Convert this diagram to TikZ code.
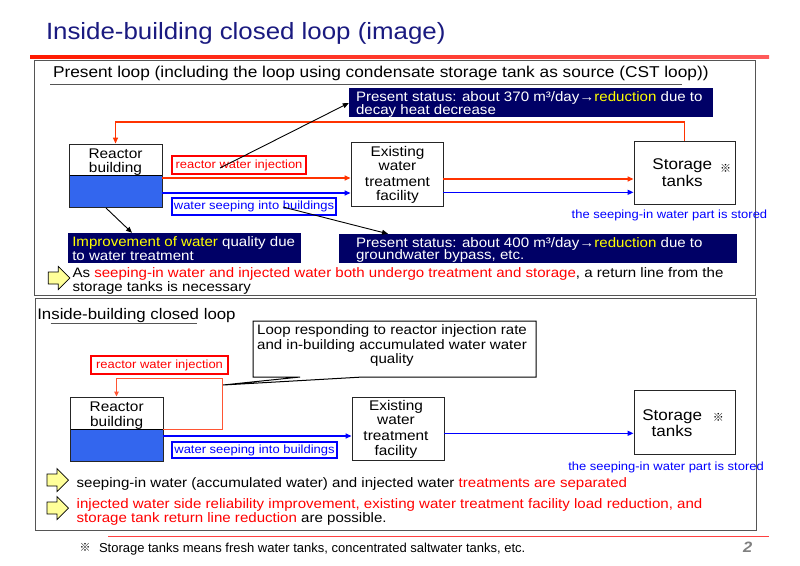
\documentclass[tikz,border=0pt]{standalone}
\usepackage{fontspec}
\setmainfont{Liberation Sans}[FakeStretch=1.1]
\newfontfamily\plainfont{Liberation Sans}
\newfontfamily\markfont{Noto Sans CJK JP}
\usetikzlibrary{arrows.meta}
\newcommand\fsz[1]{\fontsize{#1pt}{#1pt}\selectfont}
\definecolor{titlenavy}{HTML}{1A1A80}
\definecolor{navybox}{HTML}{000066}
\definecolor{water}{HTML}{3366EE}
\definecolor{redline}{HTML}{FF3300}
\definecolor{loopred}{HTML}{FF5533}
\definecolor{txtred}{HTML}{FF0000}
\definecolor{txtblue}{HTML}{0000FF}
\definecolor{ylw}{HTML}{FFFF00}
\definecolor{arrowfill}{HTML}{FFFF99}
\definecolor{titlered1}{HTML}{FF1A00}
\definecolor{titlered2}{HTML}{FF5A5A}
\definecolor{framegray}{HTML}{555555}
\tikzset{
  txt/.style={anchor=base west, inner sep=0pt, outer sep=0pt},
  ctxt/.style={anchor=base, inner sep=0pt, outer sep=0pt},
  blk/.style={draw=black!85, line width=0.9pt, fill=white, inner sep=0pt},
  rbox/.style={blk, path picture={\filldraw[fill=water, draw=black, line width=0.9pt] (path picture bounding box.west) rectangle (path picture bounding box.south east);}},
  redarr/.style={draw=redline, line width=1.4pt, -{Triangle[length=6pt,width=5pt]}},
  bluearr/.style={draw=txtblue, line width=1.4pt, -{Triangle[length=6pt,width=5pt]}},
  blkarr/.style={draw=black, line width=0.9pt, -{Triangle[length=6pt,width=5pt]}},
  looparr/.style={draw=loopred, line width=1pt, -{Triangle[length=5pt,width=4.5pt]}},
  redlbl/.style={draw=txtred, line width=1.2pt, fill=white, text=txtred, inner sep=0pt},
  bluelbl/.style={draw=txtblue, line width=1.2pt, fill=white, text=txtblue, inner sep=0pt},
  navy/.style={fill=navybox, inner sep=0pt},
  frame/.style={draw=framegray, line width=0.9pt},
  yarr/.pic={\filldraw[fill=arrowfill, draw=black, line width=0.7pt] (0,-6) -- (10,-6) -- (10,-11.5) -- (21.5,0) -- (10,11.5) -- (10,6) -- (0,6) -- cycle;}
}
\begin{document}
\begin{tikzpicture}[x=1pt,y=-1pt]
\useasboundingbox (0,0) rectangle (800,565);
\fill[white] (0,0) rectangle (800,565);

% title
\node[txt, text=titlenavy] (title) at (46,39.5) {\fsz{23.5}Inside-building closed loop (image)};
\shade[left color=titlered1, right color=titlered2] (30,55.8) rectangle (769,58.3);

% frames
\draw[frame] (34,60) rectangle (755,295);
\draw[frame] (35,298) rectangle (756,530);

% ===== upper part =====
\node[txt] (h1) at (53,77.3) {\fsz{15.7}Present loop (including the loop using condensate storage tank as source (CST loop))};
\draw[draw=framegray, line width=0.8pt] (50,84) -- (682,84);

% navy boxes
\node[navy, minimum width=364pt, minimum height=29pt] (ns1) at (531,102.5) {};
\node[navy, minimum width=398pt, minimum height=29pt] (ns2) at (538,248.5) {};
\node[navy, minimum width=233pt, minimum height=30pt] (ns3) at (184.5,248) {};
\begin{scope}
\clip (349,88) rectangle (713,117);
\node[txt, text=white] (ns1a) at (356,101.5) {\fsz{13.7}Present status: about 370 m³/day→\textcolor{ylw}{reduction} due to};
\node[txt, text=white] (ns1b) at (356,114.3) {\fsz{13.7}decay heat decrease};
\end{scope}
\begin{scope}
\clip (339,234) rectangle (737,263);
\node[txt, text=white] (ns2a) at (356,247) {\fsz{13.7}Present status: about 400 m³/day→\textcolor{ylw}{reduction} due to};
\node[txt, text=white] (ns2b) at (356,259.8) {\fsz{13.7}groundwater bypass, etc.};
\end{scope}
\begin{scope}
\clip (68,233) rectangle (301,263);
\node[txt, text=white] (ns3a) at (72.3,246) {\fsz{13.7}\textcolor{ylw}{Improvement of water} quality due};
\node[txt, text=white] (ns3b) at (72.3,260) {\fsz{13.7}to water treatment};
\end{scope}

% boxes
\node[rbox, minimum width=93pt, minimum height=63pt] (rb1) at (115.5,175.5) {};
\node[ctxt] (rb1a) at (115.5,158.3) {\fsz{14}Reactor};
\node[ctxt] (rb1b) at (115.5,172.3) {\fsz{14}building};

\node[blk, minimum width=92pt, minimum height=64pt] (tw1) at (397,174) {};
\node[ctxt] (tw1a) at (397.5,156) {\fsz{14}Existing};
\node[ctxt] (tw1b) at (397.5,170.7) {\fsz{14}water};
\node[ctxt] (tw1c) at (397.5,186) {\fsz{14}treatment};
\node[ctxt] (tw1d) at (397.5,200.7) {\fsz{14}facility};

\node[blk, minimum width=101pt, minimum height=63pt] (st1) at (684.5,172.5) {};
\node[ctxt] (st1a) at (682.3,169.3) {\fsz{15.5}Storage};
\node[ctxt] (st1b) at (682.3,186) {\fsz{15.5}tanks};
\node[inner sep=0pt] (st1m) at (725.7,168.5) {\markfont\fontsize{11pt}{11pt}\selectfont ※};

% flow arrows
\draw[redarr] (st1.north) |- (rb1.north |- 0,122) -- (rb1.north);
\draw[redarr] (rb1.east |- 0,178) -- (tw1.west |- 0,178);
\draw[bluearr] (rb1.east |- 0,193) -- (tw1.west |- 0,193);
\draw[redarr] (tw1.east |- 0,179) -- (st1.west |- 0,179);
\draw[bluearr] (tw1.east |- 0,192.3) -- (st1.west |- 0,192.3);

% labels
\node[redlbl, minimum width=134pt, minimum height=18pt] (inj1) at (239,165) {\fsz{11.8}reactor water injection};
\node[bluelbl, minimum width=164pt, minimum height=17pt] (seep1) at (254,206.5) {\fsz{11.8}water seeping into buildings};
\node[txt, text=txtblue] (sto1) at (571.7,218.3) {\fsz{11.8}the seeping-in water part is stored};

% black arrows
\coordinate (a1s) at (220,168);
\coordinate (a2s) at (283,207);
\coordinate (a3s) at (106,208);
\draw[blkarr] (a1s) -- (ns1.west |- 0,103);
\draw[blkarr] (a2s) -- (ns2.north -| 388,0);
\draw[blkarr] (a3s) -- (ns3.north -| 132,0);

% bullet
\pic (b1) at (48.3,278) {yarr};
\begin{scope}
\clip (34,60) rectangle (755,295);
\node[txt] (bt1a) at (72.5,277.3) {\fsz{13.7}As \textcolor{txtred}{seeping-in water and injected water both undergo treatment and storage}, a return line from the};
\node[txt] (bt1b) at (72.5,291.7) {\fsz{13.7}storage tanks is necessary};
\end{scope}

% ===== lower part =====
\node[txt] (h2) at (37.3,319.3) {\fsz{15.3}Inside-building closed loop};
\draw[draw=framegray, line width=0.8pt] (50.7,323.3) -- (196.7,323.3);

% callout
\draw[black, line width=1pt, fill=white] (253,321) -- (536,321) -- (536,377) -- (363,377) -- (223,385) -- (300,377) -- (253,377) -- cycle;
\node[ctxt] (cla) at (392,334.3) {\fsz{13.7}Loop responding to reactor injection rate};
\node[ctxt] (clb) at (392,349) {\fsz{13.7}and in-building accumulated water water};
\node[ctxt] (clc) at (392,363.7) {\fsz{13.7}quality};

\node[rbox, minimum width=93pt, minimum height=64pt] (rb2) at (116.5,429) {};
\node[ctxt] (rb2a) at (116.7,411.7) {\fsz{14}Reactor};
\node[ctxt] (rb2b) at (116.7,426.7) {\fsz{14}building};

\node[blk, minimum width=92pt, minimum height=63pt] (tw2) at (398,428.5) {};
\node[ctxt] (tw2a) at (396,410) {\fsz{14}Existing};
\node[ctxt] (tw2b) at (396,424.3) {\fsz{14}water};
\node[ctxt] (tw2c) at (396,440) {\fsz{14}treatment};
\node[ctxt] (tw2d) at (396,455) {\fsz{14}facility};

\node[blk, minimum width=101pt, minimum height=64pt] (st2) at (684.5,422) {};
\node[ctxt] (st2a) at (672.2,420) {\fsz{15.5}Storage};
\node[ctxt] (st2b) at (672,436.7) {\fsz{15.5}tanks};
\node[inner sep=0pt] (st2m) at (718.3,417.5) {\markfont\fontsize{11pt}{11pt}\selectfont ※};

\draw[looparr] (rb2.east) -- ++(59,0) |- (rb2.north |- 0,378) -- (rb2.north);
\draw[bluearr] (rb2.east |- 0,436) -- (tw2.west |- 0,436);
\draw[bluearr] (tw2.east |- 0,433.3) -- (st2.west |- 0,433.3);

\node[redlbl, minimum width=137pt, minimum height=18pt] (inj2) at (159.5,365) {\fsz{11.8}reactor water injection};
\node[bluelbl, minimum width=165pt, minimum height=16pt] (seep2) at (254.5,450) {\fsz{11.8}water seeping into buildings};
\node[txt, text=txtblue] (sto2) at (568.3,470) {\fsz{11.8}the seeping-in water part is stored};

\pic (b2) at (47,480) {yarr};
\pic (b3) at (47,508) {yarr};
\node[txt] (bt2) at (76.7,487) {\fsz{13.7}seeping-in water (accumulated water) and injected water \textcolor{txtred}{treatments are separated}};
\node[txt, text=txtred] (bt3a) at (76.7,508.3) {\fsz{13.7}injected water side reliability improvement, existing water treatment facility load reduction, and};
\node[txt] (bt3b) at (76.7,522.3) {\fsz{13.7}\textcolor{txtred}{storage tank return line reduction} are possible.};

% footer
\draw[draw=txtred!75, line width=0.9pt] (108,536) -- (769,536);
\node[inner sep=0pt] (fnm) at (85,547.5) {\markfont\fontsize{11pt}{11pt}\selectfont ※};
\node[txt] (fn) at (99,552.3) {\plainfont\fsz{13}Storage tanks means fresh water tanks, concentrated saltwater tanks, etc.};
\node[txt, text=gray] (pg) at (743,552.3) {\fsz{15}\bfseries\itshape 2};
\end{tikzpicture}
\end{document}
